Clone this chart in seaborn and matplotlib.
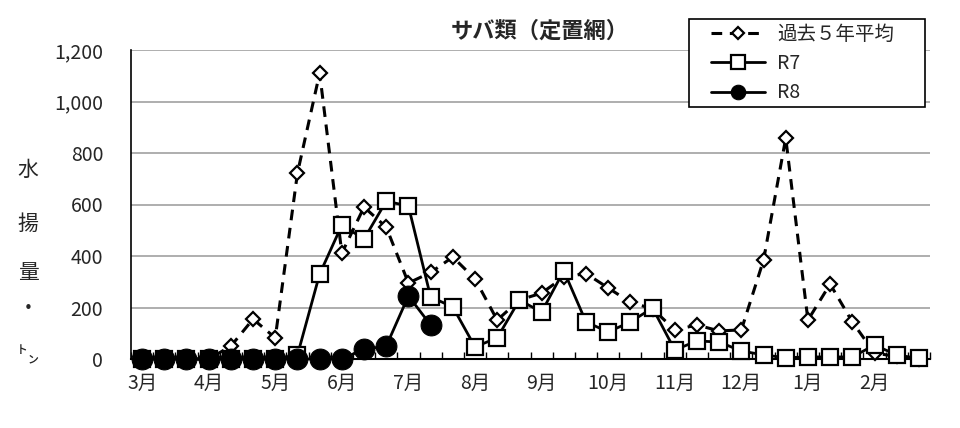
import numpy as np
import pandas as pd
import matplotlib
matplotlib.use("Agg")
import matplotlib.pyplot as plt
from matplotlib.patches import Rectangle
import seaborn as sns

# ---- data ----
month_labels = ["3月", "4月", "5月", "6月", "7月", "8月", "9月", "10月", "11月", "12月", "1月", "2月"]
avg5 = [0, 0, 0, 0, 50, 155, 82, 722, 1110, 411, 590, 512, 295, 336, 396, 311, 151, 229,
        256, 318, 332, 276, 220, 195, 113, 132, 109, 113, 384, 858, 151, 291, 144, 23, 10, 0]
r7 = [0, 0, 0, 0, 0, 0, 0, 15, 330, 520, 466, 613, 594, 241, 202, 47, 82, 229,
      182, 343, 144, 105, 144, 198, 35, 70, 66, 31, 16, 5, 8, 8, 8, 54, 16, 2]
r8 = [0, 0, 0, 0, 0, 0, 0, 0, 0, 0, 38, 50, 245, 132]
series_names = ["過去５年平均", "R7", "R8"]
yticks = [0, 200, 400, 600, 800, 1000, 1200]

sns.set_theme(style="white")
plt.rcParams["font.family"] = ["Noto Sans CJK JP", "DejaVu Sans"]

fig = plt.figure(figsize=(9.6, 4.28), dpi=100)
ax = fig.add_axes([131/960, 1-359/428, (930-131)/960, (359-50)/428])

sns.lineplot(x=np.arange(len(avg5)), y=avg5, ax=ax, color="black", linestyle=(0, (3.5, 2.5)),
             linewidth=2.2, marker="D", markersize=6.8, markerfacecolor="white",
             markeredgecolor="black", markeredgewidth=1.6, clip_on=False,
             label=series_names[0], zorder=3)
sns.lineplot(x=np.arange(len(r7)), y=r7, ax=ax, color="black", linewidth=2,
             marker="s", markersize=12, markerfacecolor="white", markeredgecolor="black",
             markeredgewidth=1.6, clip_on=False, label=series_names[1], zorder=4)
sns.lineplot(x=np.arange(len(r8)), y=r8, ax=ax, color="black", linewidth=2,
             marker="o", markersize=15, markerfacecolor="black", markeredgecolor="black",
             clip_on=False, label=series_names[2], zorder=5)

ax.set_xlim(-0.5, len(avg5) - 0.5)
ax.set_ylim(0, 1200)
ax.set_yticks(yticks)
ax.set_yticklabels([f"{v:,}" for v in yticks], fontsize=14)
ax.set_xticks(np.arange(0, 36, 3))
ax.set_xticklabels(month_labels, fontsize=14)
ax.set_xticks(np.arange(-0.5, 36, 1), minor=True)
ax.tick_params(axis="x", which="major", length=0, pad=10)
ax.tick_params(axis="x", which="minor", direction="in", length=5, width=1, color="black", bottom=True)
ax.tick_params(axis="y", length=0, pad=20)
ax.yaxis.grid(True, color="#a8a8a8", linewidth=1.3)
ax.set_axisbelow(True)
for s in ["top", "right"]:
    ax.spines[s].set_visible(False)
ax.spines["left"].set_color("black")
ax.spines["bottom"].set_color("black")
ax.spines["left"].set_linewidth(1.2)
ax.spines["bottom"].set_linewidth(1.5)
ax.set_xlabel("")
ax.set_ylabel("")

fig.text(540/960, 1-31/428, "サバ類（定置網）", ha="center", va="center",
         fontsize=16, fontweight="bold")

for ch, yy, fs in [("水", 170, 15), ("揚", 224, 15), ("量", 273, 15), ("・", 309, 15), ("㌧", 356, 16)]:
    fig.text(28/960, 1-yy/428, ch, ha="center", va="center", fontsize=fs)

# legend box drawn as a rectangle (in figure coords), legend itself frameless on top
ax.add_patch(Rectangle((689/960, 1-107/428), (925-689)/960, (107-19)/428,
                       transform=fig.transFigure, facecolor="white",
                       edgecolor="black", linewidth=1.2, zorder=9, clip_on=False))
leg = ax.legend(loc="upper left", bbox_to_anchor=(711/960, 1-24/428),
                bbox_transform=fig.transFigure, frameon=False, fontsize=14,
                handlelength=2.8, borderpad=0, labelspacing=0.42,
                handletextpad=0.6, borderaxespad=0)
leg.set_zorder(10)
for h, ms in zip(leg.legend_handles, [6, 9.5, 10.5]):
    h.set_markersize(ms)

fig.savefig("out.png", dpi=100, facecolor="white")
